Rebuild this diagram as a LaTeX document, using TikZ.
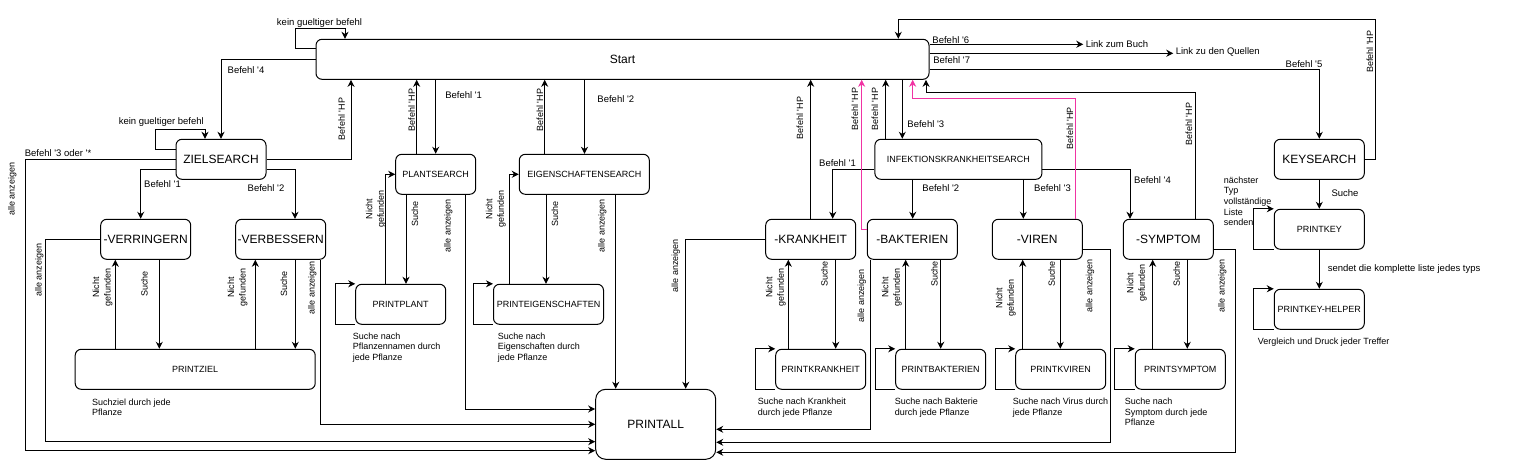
\documentclass[tikz,border=0pt]{standalone}
\usepackage{fontspec}
\setmainfont{Liberation Sans}
\usepackage{tikz}
\usetikzlibrary{arrows.meta}
\newcommand{\apo}{\textquotesingle}

\begin{document}
\begin{tikzpicture}[x=1pt, y=-1pt, line width=1pt, >={Stealth[length=7pt,width=7pt,inset=2.2pt]},
		box/.style={draw, rounded corners=6pt, minimum width=90pt, minimum height=40pt, inner sep=1pt, font=\fontsize{12}{14}\selectfont},
		sbox/.style={box, font=\fontsize{9}{11}\selectfont},
		lbl/.style={inner sep=0pt, font=\fontsize{9.5}{11}\selectfont},
		vlbl/.style={inner sep=0pt, rotate=90, align=center, font=\fontsize{9}{11.5}\selectfont},
		desc/.style={inner sep=0pt, anchor=north west, align=left, font=\fontsize{9}{10.7}\selectfont},
		hp/.style={->, magenta!80}]
			\useasboundingbox (0,0) rectangle (1516,462);
			\node[box, minimum width=613pt] (start) at (622.5,59.3) {Start};
			\node[box] (ziel) at (221,159.3) {ZIELSEARCH};
			\node[box] (verr) at (145.7,239.3) {-VERRINGERN};
			\node[box] (verb) at (280.7,239.3) {-VERBESSERN};
			\node[sbox, minimum width=240pt] (printziel) at (195.2,369.3) {PRINTZIEL};
			\node[sbox, minimum width=80pt] (plant) at (435.7,174.3) {PLANTSEARCH};
			\node[sbox] (printplant) at (400.7,304.3) {PRINTPLANT};
			\node[sbox, minimum width=130pt] (eigen) at (584.3,174.3) {EIGENSCHAFTENSEARCH};
			\node[sbox, minimum width=110pt] (printeigen) at (548.5,304.3) {PRINTEIGENSCHAFTEN};
			\node[box, minimum width=120pt, minimum height=70pt, rounded corners=10pt] (printall) at (655.7,424.3) {PRINTALL};
			\node[sbox, minimum width=167pt] (infekt) at (958.4,159.3) {INFEKTIONSKRANKHEITSEARCH};
			\node[box] (krank) at (810.7,239.3) {-KRANKHEIT};
			\node[box] (bakt) at (912.3,239.3) {-BAKTERIEN};
			\node[box] (viren) at (1037.3,239.3) {-VIREN};
			\node[box] (sympt) at (1168.3,239.3) {-SYMPTOM};
			\node[sbox] (printkrank) at (820.7,369.3) {PRINTKRANKHEIT};
			\node[sbox] (printbakt) at (940.7,369.3) {PRINTBAKTERIEN};
			\node[sbox] (printviren) at (1060.7,369.3) {PRINTKVIREN};
			\node[sbox] (printsympt) at (1180.3,369.3) {PRINTSYMPTOM};
			\node[box] (key) at (1319.3,159.3) {KEYSEARCH};
			\node[sbox] (printkey) at (1319.3,229.3) {PRINTKEY};
			\node[sbox] (keyhelper) at (1319.3,309.3) {PRINTKEY-HELPER};
			\node[lbl, anchor=west, inner sep=2pt] (buch) at (1083.3,44.3) {Link zum Buch};
			\node[lbl, anchor=west, inner sep=2pt] (quellen) at (1173.3,52) {Link zu den Quellen};

			% Start
			\draw[->] (start.west |- 0,48.3) -- (295.3,48.3) |- (345,28.3) -- (start.north -| 345,0);
			\node[lbl] at (319.5,23) {kein gueltiger befehl};
			\draw[->] (start.east |- 0,44.3) -- (buch.west |- 0,44.3);
			\node[lbl] at (950.8,40) {Befehl \apo6};
			\draw[->] (start.east |- 0,53.3) -- (quellen.west |- 0,53.3);
			\node[lbl] at (951.7,60) {Befehl \apo7};

			% ZIELSEARCH
			\draw[->] (start.west) -| (ziel.north);
			\node[lbl] at (246,70) {Befehl \apo4};
			\draw[->] (ziel.west |- 0,149.3) -- (155.3,149.3) |- (205,129.3) -- (ziel.north -| 205,0);
			\node[lbl] at (161.3,122) {kein gueltiger befehl};
			\draw[->] (ziel.east) -| (start.south -| 351,0);
			\node[vlbl] at (341.7,119) {Befehl \apo HP};
			\draw[->] (ziel.west) -- (25.7,159.3) |- (printall.west |- 0,450.7);
			\node[lbl] at (58,153.3) {Befehl \apo3 oder \apo*};
			\node[vlbl] at (12.3,189) {alle anzeigen};
			\draw[->] (ziel.west |- 0,169.3) -| (verr.north -| 140.7,0);
			\node[lbl] at (162.5,184.3) {Befehl \apo1};
			\draw[->] (ziel.east |- 0,169.3) -| (verb.north -| 295,0);
			\node[lbl] at (266,187.7) {Befehl \apo2};
			\draw[->] (verr.west) -- (45.7,239.3) |- (printall.west |- 0,441.7);
			\node[vlbl] at (39.3,270) {alle anzeigen};
			\draw[->] (verr.south -| 159.3,0) -- (printziel.north -| 159.3,0);
			\node[vlbl] at (144.3,284) {Suche};
			\draw[->] (printziel.north -| 115.3,0) -- (verr.south -| 115.3,0);
			\node[vlbl] at (102.5,287.5) {Nicht\\gefunden};
			\draw[->] (verb.south -| 295.3,0) -- (printziel.north -| 295.3,0);
			\node[vlbl] at (284,284) {Suche};
			\draw[->] (printziel.north -| 255.3,0) -- (verb.south -| 255.3,0);
			\node[vlbl] at (237.5,287.5) {Nicht\\gefunden};
			\draw[->] (verb.south -| 320,0) |- (printall.west |- 0,424.3);
			\node[vlbl] at (312.3,287.5) {alle anzeigen};
			\node[desc] at (91.7,398) {Suchziel durch jede\\Pflanze};

			% PLANTSEARCH
			\draw[->] (start.south -| 435.7,0) -- (plant.north -| 435.7,0);
			\node[lbl] at (463.7,95) {Befehl \apo1};
			\draw[->] (plant.north -| 416.7,0) -- (start.south -| 416.7,0);
			\node[vlbl] at (411.7,110) {Befehl \apo HP};
			\draw[->] (plant.south -| 406,0) -- (printplant.north -| 406,0);
			\node[vlbl] at (415,214) {Suche};
			\draw[->] (printplant.north -| 385.3,0) |- (plant.west);
			\node[vlbl] at (375.8,209) {Nicht\\gefunden};
			\draw[->] (plant.south -| 465.7,0) |- (printall.west |- 0,409);
			\node[vlbl] at (448.3,225.8) {alle anzeigen};
			\draw[->] (printplant.south west) -- ++(-20,0) |- (printplant.north west);
			\node[desc] at (352.3,332) {Suche nach\\Pflanzennamen durch\\jede Pflanze};

			% EIGENSCHAFTENSEARCH
			\draw[->] (start.south -| 584.5,0) -- (eigen.north -| 584.5,0);
			\node[lbl] at (615.8,99.3) {Befehl \apo2};
			\draw[->] (eigen.north -| 544.7,0) -- (start.south -| 544.7,0);
			\node[vlbl] at (540,110) {Befehl \apo HP};
			\draw[->] (eigen.south -| 546,0) -- (printeigen.north -| 546,0);
			\node[vlbl] at (555,214) {Suche};
			\draw[->] (printeigen.north -| 509.3,0) |- (eigen.west);
			\node[vlbl] at (495.8,209) {Nicht\\gefunden};
			\draw[->] (eigen.south -| 615.7,0) -- (printall.north -| 615.7,0);
			\node[vlbl] at (602.3,225.8) {alle anzeigen};
			\draw[->] (printeigen.south west) -- ++(-20,0) |- (printeigen.north west);
			\node[desc] at (497.3,332) {Suche nach\\Eigenschaften durch\\jede Pflanze};

			% INFEKTIONSKRANKHEITSEARCH
			\draw[->] (start.south -| 902.3,0) -- (infekt.north -| 902.3,0);
			\node[lbl] at (925.8,124) {Befehl \apo3};
			\draw[->] (infekt.north -| 885.7,0) -- (start.south -| 885.7,0);
			\node[vlbl] at (875,109) {Befehl \apo HP};
			\draw[->] (infekt.west |- 0,169.3) -| (krank.north -| 832.7,0);
			\node[lbl] at (837.5,162.7) {Befehl \apo1};
			\draw[->] (infekt.south -| 912.7,0) -- (bakt.north -| 912.7,0);
			\node[lbl] at (940.8,187.7) {Befehl \apo2};
			\draw[->] (infekt.south -| 1023.3,0) -- (viren.north -| 1023.3,0);
			\node[lbl] at (1052.5,187.7) {Befehl \apo3};
			\draw[->] (infekt.east |- 0,169.3) -| (sympt.north -| 1130,0);
			\node[lbl] at (1152.5,180) {Befehl \apo4};

			% KRANKHEIT
			\draw[->] (krank.north) -- (start.south -| krank.north);
			\node[vlbl] at (800,118) {Befehl \apo HP};
			\draw[->] (krank.west) -| (printall.north -| 685.7,0);
			\node[vlbl] at (675.7,265.8) {alle anzeigen};
			\draw[->] (krank.south -| 835.7,0) -- (printkrank.north -| 835.7,0);
			\node[vlbl] at (824.3,274) {Suche};
			\draw[->] (printkrank.north -| 788.3,0) -- (krank.south -| 788.3,0);
			\node[vlbl] at (775.8,287.5) {Nicht\\gefunden};
			\draw[->] (printkrank.south west) -- ++(-20,0) |- (printkrank.north west);
			\node[desc] at (757.3,397.3) {Suche nach Krankheit\\durch jede Pflanze};

			% BAKTERIEN
			\draw[hp] (bakt.west |- 0,229.3) -- (861.7,229.3) -- (start.south -| 861.7,0);
			\node[vlbl] at (855,109) {Befehl \apo HP};
			\draw[->] (bakt.south -| 940.7,0) -- (printbakt.north -| 940.7,0);
			\node[vlbl] at (934.3,274) {Suche};
			\draw[->] (printbakt.north -| 905.7,0) -- (bakt.south -| 905.7,0);
			\node[vlbl] at (891.7,287.5) {Nicht\\gefunden};
			\draw[->] (bakt.south -| 870.7,0) |- (printall.east |- 0,429.3);
			\node[vlbl] at (861.7,295.8) {alle anzeigen};
			\draw[->] (printbakt.south west) -- ++(-20,0) |- (printbakt.north west);
			\node[desc] at (894.3,397.3) {Suche nach Bakterie\\durch jede Pflanze};

			% VIREN
			\draw[hp] (viren.north -| 1075,0) |- (912.7,99) -- (start.south -| 912.7,0);
			\node[vlbl] at (1070,128.3) {Befehl \apo HP};
			\draw[->] (viren.south -| 1060.3,0) -- (printviren.north -| 1060.3,0);
			\node[vlbl] at (1051.7,274) {Suche};
			\draw[->] (printviren.north -| 1022.7,0) -- (viren.south -| 1022.7,0);
			\node[vlbl] at (1005.8,298) {Nicht\\gefunden};
			\draw[->] (viren.east |- 0,249.3) -- (1110.3,249.3) |- (printall.east |- 0,442.3);
			\node[vlbl] at (1090,285.8) {alle anzeigen};
			\draw[->] (printviren.south west) -- ++(-20,0) |- (printviren.north west);
			\node[desc] at (1012.3,397.3) {Suche nach Virus durch\\jede Pflanze};

			% SYMPTOM
			\draw[->] (sympt.north -| 1195.7,0) |- (926,92.3) -- (start.south -| 926,0);
			\node[vlbl] at (1189,124) {Befehl \apo HP};
			\draw[->] (sympt.south -| 1187.3,0) -- (printsympt.north -| 1187.3,0);
			\node[vlbl] at (1176.7,274) {Suche};
			\draw[->] (printsympt.north -| 1152.7,0) -- (sympt.south -| 1152.7,0);
			\node[vlbl] at (1136.7,283) {Nicht\\gefunden};
			\draw[->] (sympt.east |- 0,249.3) -- (1235.3,249.3) |- (printall.east |- 0,452.3);
			\node[vlbl] at (1222.3,285.8) {alle anzeigen};
			\draw[->] (printsympt.south west) -- ++(-20,0) |- (printsympt.north west);
			\node[desc] at (1124.3,397.3) {Suche nach\\Symptom durch jede\\Pflanze};

			% KEYSEARCH
			\draw[->] (start.east |- 0,69.3) -| (key.north);
			\node[lbl] at (1304,64.3) {Befehl \apo5};
			\draw[->] (key.east) -- (1375.7,159.3) |- (898.3,19.3) -- (start.north -| 898.3,0);
			\node[vlbl] at (1370,51.7) {Befehl \apo HP};
			\draw[->] (key) -- (printkey);
			\node[lbl] at (1345,193.3) {Suche};
			\draw[->] (printkey.south west) -- ++(-20,0) |- (printkey.north west);
			\node[desc, anchor=west] at (1223.3,201.3) {nächster\\Typ\\vollständige\\Liste\\senden};
			\draw[->] (printkey) -- (keyhelper);
			\node[lbl, anchor=west] at (1327.3,269.3) {sendet die komplette liste jedes typs};
			\draw[->] (keyhelper.south west) -- ++(-20,0) |- (keyhelper.north west);
			\node[desc] at (1257.3,337.3) {Vergleich und Druck jeder Treffer};
		\end{tikzpicture}
\end{document}
